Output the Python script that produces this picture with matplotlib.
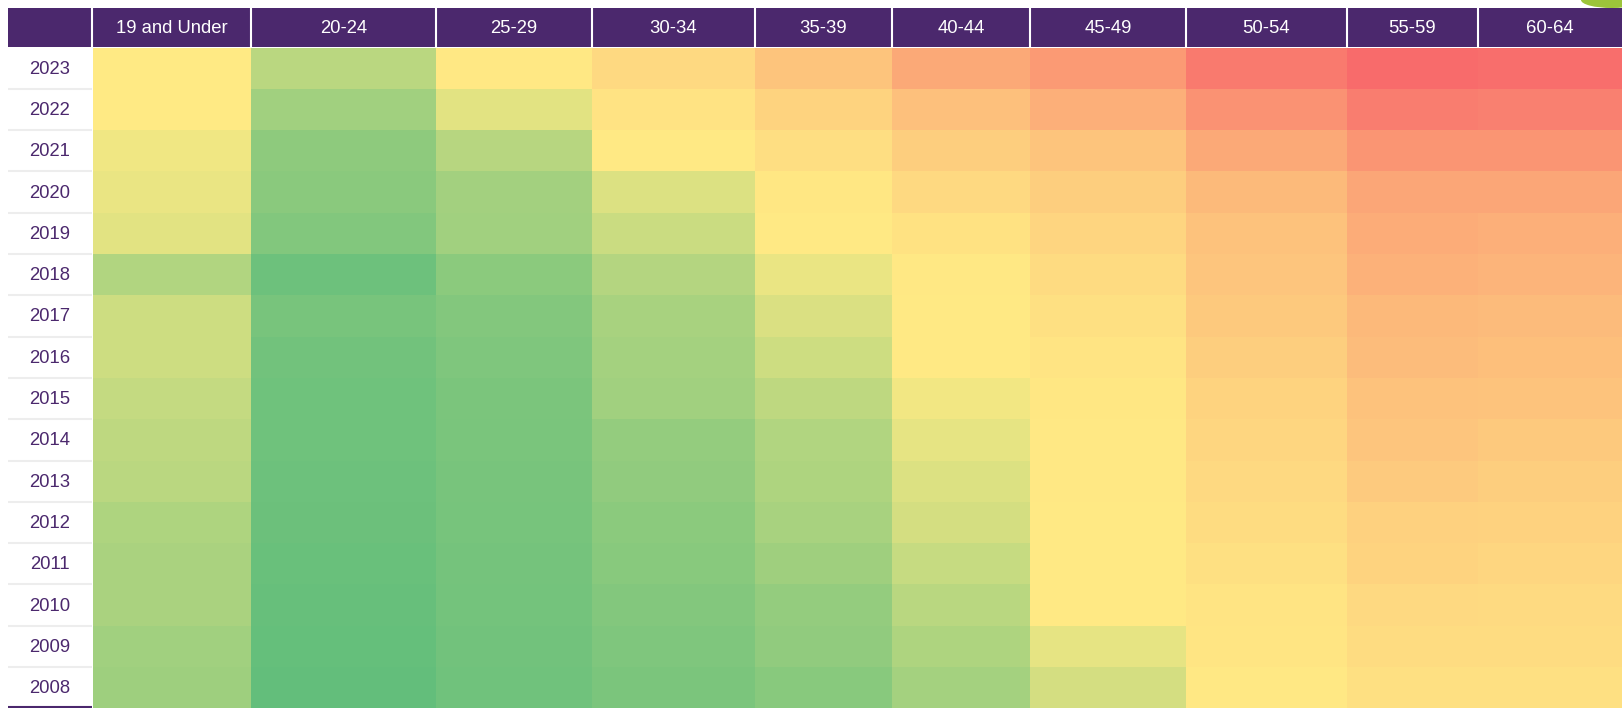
# -*- coding: utf-8 -*-
import numpy as np
import matplotlib
matplotlib.use("Agg")
import matplotlib.pyplot as plt
from matplotlib.colors import LinearSegmentedColormap, Normalize
from matplotlib.patches import Rectangle, Ellipse

# rows top -> bottom
years = ["2023", "2022", "2021", "2020", "2019", "2018", "2017", "2016",
         "2015", "2014", "2013", "2012", "2011", "2010", "2009", "2008"]
age_groups = ["19 and Under", "20-24", "25-29", "30-34", "35-39",
              "40-44", "45-49", "50-54", "55-59", "60-64"]

# colour-scale score per age group (0 = green, 50 = yellow, 100 = red), 2023 -> 2008
age_19_under = [50, 50, 45, 43, 41, 25, 34, 34, 31, 29, 28, 24, 23, 23, 20, 19]
age_20_24 = [28, 20, 14, 12.5, 10, 3.5, 7, 5, 4, 4, 3.5, 3, 2, 1.5, 1, 0]
age_25_29 = [51, 41, 27, 20.5, 20, 13, 10.5, 9, 8, 7.5, 7, 6.5, 6, 5.5, 5, 4.5]
age_30_34 = [57, 53, 50.5, 39, 33, 26, 22, 21, 20, 16, 15, 13, 12, 10.5, 9, 8]
age_35_39 = [65, 59, 55, 51.5, 50.5, 43, 38, 34, 29, 25, 24, 22, 19.5, 16, 15, 12]
age_40_44 = [75, 66.5, 61, 57, 53.5, 51, 50.5, 50.5, 46, 42, 39, 36, 32, 27.5, 24, 21]
age_45_49 = [81, 73, 65, 61, 58.5, 56, 54, 52.5, 51.5, 51, 51, 50.5, 50.5, 50.5, 42, 36]
age_50_54 = [93, 84, 75, 69, 66, 64.5, 63, 61, 59, 58, 57, 55.5, 54, 52.5, 52, 51]
age_55_59 = [99, 92, 83, 76.5, 74, 72, 69.5, 68, 66, 64.5, 62.5, 60, 59, 57, 55.5, 54]
age_60_64 = [98, 91, 83, 76.5, 73, 71, 68.5, 67, 65.5, 63, 61, 59.5, 58, 56.5, 55.5, 54]

values = np.column_stack([age_19_under, age_20_24, age_25_29, age_30_34, age_35_39,
                          age_40_44, age_45_49, age_50_54, age_55_59, age_60_64])

PURPLE = "#4B286D"
FONT = ["Liberation Sans", "DejaVu Sans"]
W, H = 1622, 708

# layout in pixels
col_edges = [93, 251, 436, 592, 755, 892, 1030, 1186, 1347, 1478, 1622]
head_top, head_bot = 8, 46.5
row_top, row_h = 47.5, 41.3
row_edges = row_top + row_h * np.arange(len(years) + 1)
label_l, label_r = 8, 92

# green - yellow - red scale
cmap = LinearSegmentedColormap.from_list(
    "gyr", ["#63BE7B", "#FFEB84", "#F8696B"])

fig = plt.figure(figsize=(W / 100, H / 100), dpi=100)
ax = fig.add_axes([0, 0, 1, 1])
ax.set_xlim(0, W)
ax.set_ylim(H, 0)
ax.axis("off")

# heat cells
ax.pcolormesh(col_edges, row_edges, values, cmap=cmap,
              norm=Normalize(0, 100), shading="flat")

# header band
ax.add_patch(Rectangle((label_l, head_top), W - label_l, head_bot - head_top,
                       color=PURPLE, lw=0))
ax.vlines([label_r] + col_edges[1:-1], head_top, head_bot,
          colors="white", linewidth=1.5)
for i, name in enumerate(age_groups):
    cx = (col_edges[i] + col_edges[i + 1]) / 2
    ax.text(cx, (head_top + head_bot) / 2 + 1, name, color="white",
            fontsize=13.3, family=FONT, ha="center", va="center")

# year labels
ax.hlines(row_edges[1:-1], label_l, label_r, colors="#EDEDED", linewidth=1.5)
ax.hlines(row_edges[-1] - 1.5, label_l, label_r, colors=PURPLE, linewidth=1.5)
for j, yr in enumerate(years):
    cy = (row_edges[j] + row_edges[j + 1]) / 2
    ax.text((label_l + label_r) / 2, cy + 1, yr, color=PURPLE,
            fontsize=13.3, family=FONT, ha="center", va="center")

# little leaf poking in at the top right corner
ax.add_patch(Ellipse((1612, 0), 62, 16, color="#9CC43A", lw=0))

fig.savefig("out.png", dpi=100)
